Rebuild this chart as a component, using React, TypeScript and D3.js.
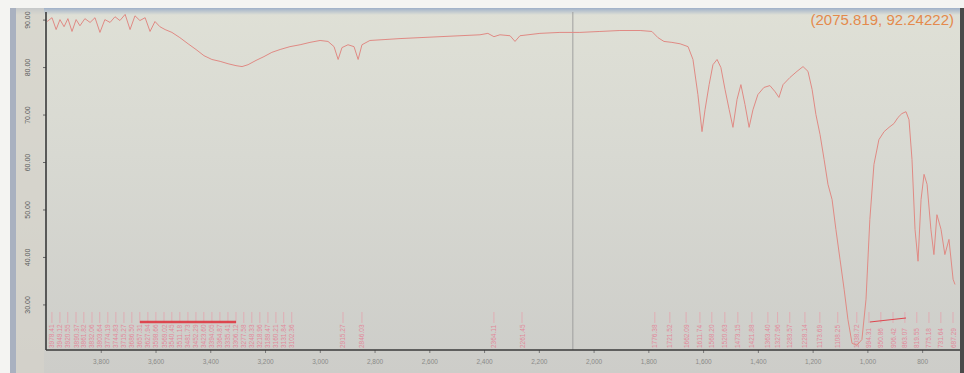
import React, { useEffect, useRef } from "react";
import { scaleLinear, axisBottom, axisLeft, select, line } from "d3";

// IR spectrum: wavenumber (cm-1) vs %T
const wavenumbers = [
  3996, 3978, 3963, 3949, 3934, 3920, 3905, 3890, 3876, 3858, 3839, 3821, 3803, 3785, 3766, 3748,
  3730, 3711, 3693, 3675, 3657, 3638, 3620, 3602, 3584, 3565, 3540, 3511, 3481, 3452, 3423, 3394,
  3364, 3335, 3306, 3284, 3262, 3233, 3204, 3175, 3145, 3109, 3072, 3036, 2999, 2970, 2948, 2933,
  2919, 2897, 2875, 2860, 2846, 2817, 2762, 2707, 2634, 2561, 2488, 2415, 2386, 2364, 2342, 2305,
  2287, 2269, 2196, 2123, 2050, 1977, 1904, 1830, 1787, 1765, 1743, 1714, 1684, 1655, 1637, 1619,
  1604, 1593, 1578, 1564, 1549, 1535, 1520, 1505, 1491, 1476, 1462, 1447, 1432, 1418, 1400, 1378,
  1356, 1337, 1323, 1308, 1283, 1257, 1235, 1217, 1202, 1188, 1173, 1158, 1144, 1129, 1115, 1100,
  1085, 1071, 1056, 1038, 1020, 1005, 991, 976, 958, 939, 921, 903, 888, 874, 859, 848,
  837, 826, 815, 804, 793, 782, 768, 757, 746, 731, 717, 702, 687, 680
];
const transmittance = [
  89.6, 90.4, 87.9, 90.0, 88.5, 90.2, 87.5, 90.0, 88.7, 90.2, 89.4, 90.4, 87.3, 90.0, 89.4, 90.6,
  89.8, 91.1, 87.9, 90.8, 89.8, 90.4, 87.5, 89.6, 88.5, 87.9, 87.3, 86.2, 84.9, 83.7, 82.4, 81.6,
  81.2, 80.7, 80.3, 80.1, 80.5, 81.4, 82.2, 83.1, 83.7, 84.3, 84.7, 85.2, 85.6, 85.4, 84.3, 81.6,
  84.1, 84.7, 84.3, 81.6, 84.7, 85.6, 85.8, 86.0, 86.2, 86.4, 86.6, 86.8, 87.1, 86.4, 86.8, 86.6,
  85.4, 86.6, 87.1, 87.3, 87.3, 87.5, 87.7, 87.7, 87.5, 86.2, 85.4, 85.2, 84.9, 84.3, 81.6, 74.2,
  66.4, 71.0, 76.3, 80.5, 81.6, 79.9, 75.3, 71.1, 67.3, 73.2, 76.3, 72.1, 67.3, 71.0, 74.2, 75.7,
  76.1, 74.8, 73.6, 76.3, 77.8, 79.1, 80.1, 79.1, 75.3, 70.0, 65.8, 60.5, 55.3, 52.1, 45.8, 39.5,
  33.2, 26.8, 21.8, 21.4, 22.6, 31.1, 47.9, 59.5, 64.7, 66.4, 67.3, 68.1, 69.4, 70.2, 70.6, 68.9,
  60.5, 45.8, 39.1, 52.1, 57.4, 55.3, 45.8, 40.5, 48.9, 45.8, 40.5, 43.7, 35.3, 34.2
];

// peak picks shown along the bottom
const peaks = [
  3978.41, 3949.12, 3920.55, 3890.37, 3861.82, 3832.06, 3803.64, 3774.19, 3744.83, 3715.27,
  3686.50, 3657.31, 3627.94, 3598.66, 3569.02, 3540.45, 3511.18, 3481.73, 3452.29, 3423.60,
  3394.05, 3364.87, 3335.41, 3306.12, 3277.58, 3248.33, 3218.96, 3189.47, 3160.21, 3131.84,
  3102.36, 2915.27, 2846.03, 2364.11, 2261.45, 1776.38, 1721.52, 1662.09, 1611.74, 1568.20,
  1520.63, 1473.15, 1421.88, 1363.40, 1327.96, 1283.57, 1228.14, 1173.69, 1108.25, 1038.72,
  994.31, 950.86, 906.42, 863.07, 819.55, 775.18, 731.64, 687.29
];
// bands where the peak labels are joined by a red bar
const labelBars = [
  [3657, 3306],
  [991, 859]
];

const xTicks = [3800, 3600, 3400, 3200, 3000, 2800, 2600, 2400, 2200, 2000, 1800, 1600, 1400, 1200, 1000, 800];
const yTicks = [90, 80, 70, 60, 50, 40, 30];
const cursor = { x: 2075.819, y: 92.24222 };

export default function App() {
  const width = 964,
    height = 373;
  const left = 46,
    right = 955,
    top = 12,
    bottom = 350;

  const xScale = scaleLinear().domain([4000, 680]).range([left, right]);
  const yScale = scaleLinear().domain([20.4, 91.6]).range([bottom, top]);

  const xAxisRef = useRef(null);
  const yAxisRef = useRef(null);

  useEffect(() => {
    const xAxis = axisBottom(xScale).tickValues(xTicks).tickSize(3).tickPadding(6);
    const gx = select(xAxisRef.current).call(xAxis);
    gx.select(".domain").remove();
    gx.selectAll("line").attr("stroke", "#777");
    gx.selectAll("text")
      .attr("fill", "#8a8a88")
      .style("font-size", "6.5px")
      .style("font-family", "Liberation Sans, Arial, sans-serif");

    const yAxis = axisLeft(yScale)
      .tickValues(yTicks)
      .tickSize(3)
      .tickFormat(d => (+d).toFixed(2));
    const gy = select(yAxisRef.current).call(yAxis);
    gy.select(".domain").remove();
    gy.selectAll("line").attr("stroke", "#666");
    gy.selectAll("text")
      .attr("fill", "#5c5c5c")
      .attr("transform", "rotate(-90)")
      .attr("x", 0)
      .attr("y", -16)
      .attr("dy", "0")
      .attr("text-anchor", "middle")
      .style("font-size", "7px")
      .style("font-family", "Liberation Sans, Arial, sans-serif");
  }, []);

  const pts = wavenumbers.map((w, i) => [w, transmittance[i]]);
  const spectrum = line()
    .x(d => xScale(d[0]))
    .y(d => yScale(d[1]));

  return (
    <svg
      width={width}
      height={height}
      style={{ position: "absolute", left: 0, top: 0, display: "block" }}
    >
      <defs>
        <linearGradient id="screen" x1="0" y1="0" x2="0" y2="1">
          <stop offset="0" stopColor="#dfe0d6" />
          <stop offset="0.4" stopColor="#d8d9d2" />
          <stop offset="1" stopColor="#cdcdc9" />
        </linearGradient>
        <linearGradient id="topEdge" x1="0" y1="0" x2="0" y2="1">
          <stop offset="0" stopColor="#9fb0c8" />
          <stop offset="1" stopColor="#dfe0d6" />
        </linearGradient>
      </defs>
      <rect width={width} height={height} fill="#f4f4f2" />
      <rect x={10} y={8} width={954} height={365} fill="url(#screen)" />
      <rect x={10} y={8} width={954} height={7} fill="url(#topEdge)" />
      <rect x={10} y={8} width={6} height={365} fill="#a9b1c0" />
      <rect x={16} y={8} width={28} height={365} fill="#d6d3cb" opacity={0.7} />
      <rect x={960} y={8} width={4} height={365} fill="#4a4a4a" />

      {/* cursor */}
      <line
        x1={xScale(cursor.x)}
        x2={xScale(cursor.x)}
        y1={top}
        y2={bottom}
        stroke="#999"
        strokeWidth={0.9}
      />
      <text
        x={954}
        y={25}
        textAnchor="end"
        fill="#e48a4c"
        style={{ fontSize: "15px", fontFamily: "Liberation Sans, Arial, sans-serif" }}
      >
        ({cursor.x.toFixed(3)}, {cursor.y.toFixed(5)})
      </text>

      {/* peak labels */}
      {peaks.map((p, i) => (
        <g key={i}>
          <line
            x1={xScale(p)}
            x2={xScale(p)}
            y1={312}
            y2={323}
            stroke="#e3a3ad"
            strokeWidth={0.8}
          />
          <text
            transform={`translate(${xScale(p) + 2.5}, 348) rotate(-90)`}
            fill="#e2899a"
            style={{ fontSize: "6.5px", fontFamily: "Liberation Sans, Arial, sans-serif" }}
          >
            {p.toFixed(2)}
          </text>
        </g>
      ))}
      {labelBars.map((b, i) => (
        <line
          key={i}
          x1={xScale(b[0])}
          x2={xScale(b[1])}
          y1={322}
          y2={i === 0 ? 322 : 318}
          stroke="#e0303a"
          strokeWidth={i === 0 ? 2.5 : 1.2}
          opacity={0.85}
        />
      ))}

      <path
        d={spectrum(pts)}
        fill="none"
        stroke="#e08a84"
        strokeWidth={1}
        strokeLinejoin="round"
      />

      <g ref={xAxisRef} transform={`translate(0, ${bottom})`} />
      <g ref={yAxisRef} transform={`translate(${left}, 0)`} />
      <line x1={left} x2={960} y1={bottom} y2={bottom} stroke="#3a3a3a" strokeWidth={1.6} />
      <line x1={left} x2={left} y1={top} y2={bottom} stroke="#3a3a3a" strokeWidth={1.6} />
    </svg>
  );
}
